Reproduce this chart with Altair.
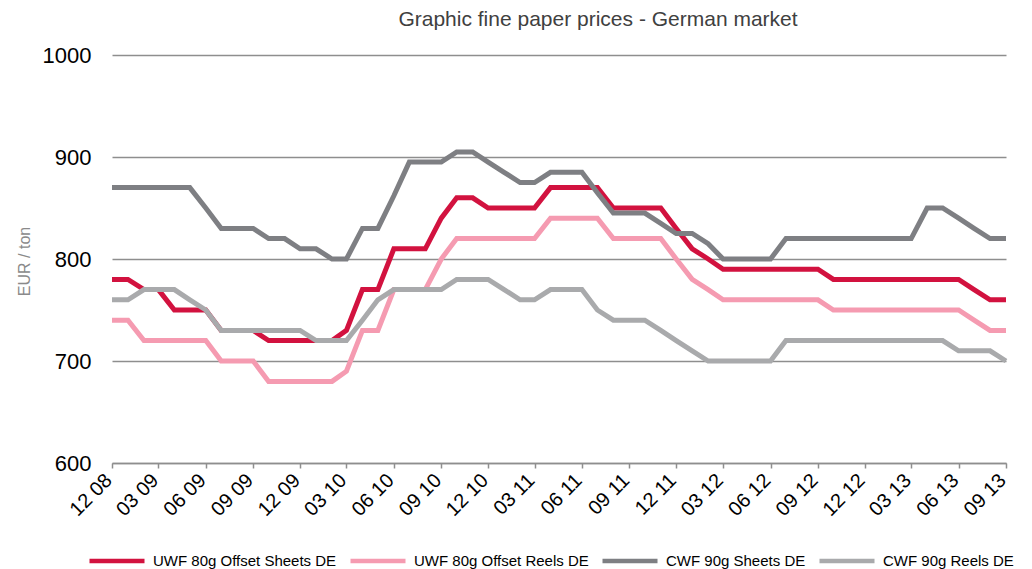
import altair as alt
import pandas as pd

# Monthly observations, Dec 2008 .. Sep 2013
months = pd.date_range("2008-12-01", "2013-09-01", freq="MS")

series_names = [
    "UWF 80g Offset Sheets DE",
    "UWF 80g Offset Reels DE",
    "CWF 90g Sheets DE",
    "CWF 90g Reels DE",
]

uwf_sheets = [780, 780, 770, 770, 750, 750, 750, 730, 730, 730,
              720, 720, 720, 720, 720, 730, 770, 770, 810, 810,
              810, 840, 860, 860, 850, 850, 850, 850, 870, 870,
              870, 870, 850, 850, 850, 850, 830, 810, 800, 790,
              790, 790, 790, 790, 790, 790, 780, 780, 780, 780,
              780, 780, 780, 780, 780, 770, 760, 760]

uwf_reels = [740, 740, 720, 720, 720, 720, 720, 700, 700, 700,
             680, 680, 680, 680, 680, 690, 730, 730, 770, 770,
             770, 800, 820, 820, 820, 820, 820, 820, 840, 840,
             840, 840, 820, 820, 820, 820, 800, 780, 770, 760,
             760, 760, 760, 760, 760, 760, 750, 750, 750, 750,
             750, 750, 750, 750, 750, 740, 730, 730]

cwf_sheets = [870, 870, 870, 870, 870, 870, 850, 830, 830, 830,
              820, 820, 810, 810, 800, 800, 830, 830, 862, 895,
              895, 895, 905, 905, 895, 885, 875, 875, 885, 885,
              885, 865, 845, 845, 845, 835, 825, 825, 815, 800,
              800, 800, 800, 820, 820, 820, 820, 820, 820, 820,
              820, 820, 850, 850, 840, 830, 820, 820]

cwf_reels = [760, 760, 770, 770, 770, 760, 750, 730, 730, 730,
             730, 730, 730, 720, 720, 720, 740, 760, 770, 770,
             770, 770, 780, 780, 780, 770, 760, 760, 770, 770,
             770, 750, 740, 740, 740, 730, 720, 710, 700, 700,
             700, 700, 700, 720, 720, 720, 720, 720, 720, 720,
             720, 720, 720, 720, 710, 710, 710, 700]

colors = ["#D2123F", "#F59BB1", "#7E7F83", "#A9AAAC"]
y_ticks = [600, 700, 800, 900, 1000]

rows = []
for name, vals in zip(series_names, [uwf_sheets, uwf_reels, cwf_sheets, cwf_reels]):
    for d, v in zip(months, vals):
        rows.append({"date": d, "series": name, "price": v})
df = pd.DataFrame(rows)

tick_dates = [alt.DateTime(year=int(d.year), month=int(d.month), date=1) for d in months[::3]]
x_domain = [alt.DateTime(year=2008, month=12, date=1), alt.DateTime(year=2013, month=9, date=1)]

FONT = "Liberation Sans"
GRID = "#8E8E8E"

chart = alt.Chart(df).mark_line(strokeWidth=5).encode(
    x=alt.X(
        "date:T",
        scale=alt.Scale(domain=x_domain, nice=False),
        axis=alt.Axis(
            values=tick_dates, format="%m %y", labelAngle=315,
            labelAlign="right", labelBaseline="middle", labelFontSize=20,
            labelColor="#000000", labelPadding=9, labelOffset=-3.5,
            tickSize=5, tickColor=GRID, tickWidth=1.5,
            domainColor=GRID, domainWidth=1.5, grid=False, title=None,
            labelFont=FONT, labelOverlap=False, labelFlush=False,
        ),
    ),
    y=alt.Y(
        "price:Q",
        scale=alt.Scale(domain=[600, 1000], nice=False, zero=False),
        axis=alt.Axis(
            values=y_ticks, format="d", grid=True, gridColor=GRID, gridWidth=1.5,
            ticks=False, domain=False, labelPadding=21, labelFontSize=22,
            labelColor="#000000", labelFont=FONT,
            title="EUR / ton", titleFontSize=16, titleColor="#8A8A8A",
            titleFontWeight="normal", titleFont=FONT,
            titleX=-87.5, titleY=206, titleAlign="center",
            titleBaseline="middle", titleAngle=270,
        ),
    ),
    color=alt.Color(
        "series:N",
        sort=series_names,
        scale=alt.Scale(domain=series_names, range=colors),
        legend=alt.Legend(
            title=None, orient="none", legendX=-25, legendY=476,
            direction="horizontal", symbolType="stroke", symbolSize=3025,
            symbolStrokeWidth=4.5, labelFontSize=15, labelFont=FONT,
            labelColor="#000000", labelOffset=6, columnPadding=4,
            labelLimit=400,
        ),
    ),
).properties(
    width=894,
    height=408,
    autosize=alt.AutoSizeParams(type="none"),
    padding={"left": 104, "top": 47, "right": 16, "bottom": 106},
    title=alt.TitleParams(
        "Graphic fine paper prices - German market",
        fontSize=21, font=FONT, fontWeight="normal", color="#404040",
        anchor="middle", dx=39, offset=14, frame="group",
    ),
).configure_view(stroke=None)

chart.save("out.html", embed_options={"renderer": "svg", "actions": False})
